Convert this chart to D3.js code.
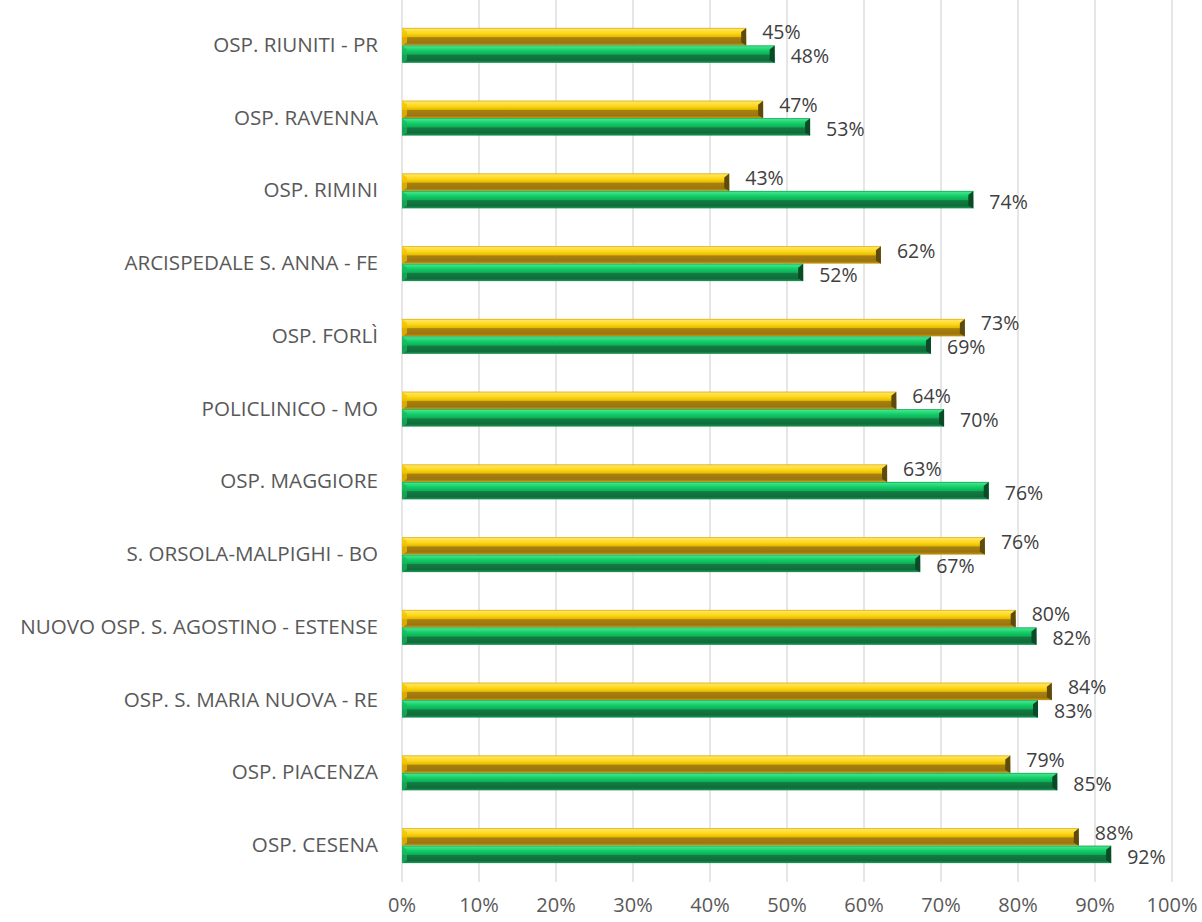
<!DOCTYPE html>
<html><head><meta charset="utf-8">
<script src="https://cdn.jsdelivr.net/npm/d3@7"></script>
<style>body{margin:0;background:#fff;} text{font-family:"Open Sans",sans-serif;}</style>
</head><body>
<svg id="c" width="1202" height="922"></svg>
<script>
const categories = ["OSP. RIUNITI - PR","OSP. RAVENNA","OSP. RIMINI","ARCISPEDALE S. ANNA - FE","OSP. FORLÌ","POLICLINICO - MO","OSP. MAGGIORE","S. ORSOLA-MALPIGHI - BO","NUOVO OSP. S. AGOSTINO - ESTENSE","OSP. S. MARIA NUOVA - RE","OSP. PIACENZA","OSP. CESENA"];
const yellowValues = [0.447,0.469,0.425,0.622,0.731,0.642,0.630,0.757,0.797,0.844,0.790,0.879];
const greenValues  = [0.484,0.530,0.742,0.521,0.687,0.704,0.762,0.673,0.824,0.826,0.851,0.921];
const xTicks = [0,0.1,0.2,0.3,0.4,0.5,0.6,0.7,0.8,0.9,1.0];

const svg = d3.select("#c");
const x = d3.scaleLinear().domain([0,1]).range([402,1172]);
const y = d3.scaleBand().domain(categories).range([9,882]);
const fmt = d3.format(".0%");

const defs = svg.append("defs");
function grad(id, stops){
  const g = defs.append("linearGradient").attr("id",id).attr("x1",0).attr("y1",0).attr("x2",0).attr("y2",1);
  stops.forEach(s=>g.append("stop").attr("offset",s[0]).attr("stop-color",s[1]));
}
grad("gy",[[0,"#D9A800"],[0.08,"#FFE45C"],[0.3,"#FFD81A"],[0.5,"#E6BC00"],[0.56,"#A8800E"],[0.85,"#9A7412"],[1,"#C99A08"]]);
grad("gg",[[0,"#0A9E4A"],[0.08,"#3EE38A"],[0.3,"#12CC66"],[0.5,"#0DB057"],[0.56,"#137A42"],[0.85,"#0F6C3A"],[1,"#1A9A55"]]);

// gridlines
svg.append("g").selectAll("line").data(xTicks).join("line")
  .attr("x1",d=>x(d)).attr("x2",d=>x(d)).attr("y1",0).attr("y2",882)
  .attr("stroke","#D9D9D9").attr("stroke-width",1.3);

// axis tick labels
svg.append("g").selectAll("text").data(xTicks).join("text")
  .attr("x",d=>x(d)).attr("y",907).attr("text-anchor","middle").attr("dominant-baseline","middle")
  .attr("font-size",20).attr("fill","#595959").text(d=>fmt(d));

// category labels
svg.append("g").selectAll("text").data(categories).join("text")
  .attr("x",378).attr("y",d=>y(d)+y.bandwidth()/2+1).attr("text-anchor","end").attr("dominant-baseline","middle")
  .attr("font-size",20.6).attr("fill","#595959").text(d=>d);

const barH = 17.5;
function drawSeries(values, offset, fillId, capColor, bevelColor, cls, labelDy){
  const g = svg.append("g").attr("class",cls);
  const data = categories.map((c,i)=>({c, v:values[i]}));
  const top = d => y(d.c)+y.bandwidth()/2 + offset;
  g.selectAll("rect").data(data).join("rect")
    .attr("x",x(0)).attr("y",top).attr("width",d=>x(d.v)-x(0)).attr("height",barH)
    .attr("fill",`url(#${fillId})`);
  g.selectAll("path.cap").data(data).join("path").attr("class","cap")
    .attr("d",d=>{const x1=x(d.v), t=top(d); return `M${x1-5},${t+4}L${x1},${t}L${x1},${t+barH}L${x1-5},${t+barH-3}Z`;})
    .attr("fill",capColor);
  g.selectAll("path.lb").data(data).join("path").attr("class","lb")
    .attr("d",d=>{const x0=x(0), t=top(d); return `M${x0},${t}L${x0+5},${t+4}L${x0+5},${t+barH-3}L${x0},${t+barH}Z`;})
    .attr("fill",bevelColor).attr("opacity",0.7);
  g.selectAll("text").data(data).join("text")
    .attr("x",d=>x(d.v)+16).attr("y",d=>top(d)+barH/2+labelDy).attr("dominant-baseline","middle")
    .attr("font-size",19.5).attr("fill","#404040").text(d=>fmt(d.v));
}
drawSeries(yellowValues, -barH, "gy", "#5E4A0C", "#F0C000", "yellow", -2.5);
drawSeries(greenValues, 0, "gg", "#0B4A27", "#18B860", "green", 4);
</script>
</body></html>
